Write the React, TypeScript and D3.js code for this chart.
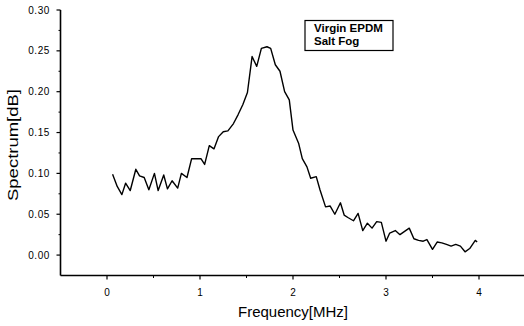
import React from "react";
import * as d3 from "d3";

const freq = [0.06,0.11,0.16,0.20,0.25,0.31,0.35,0.40,0.45,0.51,0.55,0.61,0.65,0.70,0.76,0.80,0.86,0.91,0.96,1.01,1.05,1.10,1.15,1.20,1.25,1.30,1.36,1.41,1.46,1.51,1.56,1.61,1.66,1.72,1.76,1.81,1.86,1.91,1.96,2.00,2.06,2.10,2.15,2.19,2.25,2.29,2.35,2.40,2.45,2.51,2.55,2.59,2.65,2.70,2.75,2.80,2.85,2.90,2.95,3.00,3.04,3.10,3.15,3.20,3.25,3.30,3.35,3.40,3.44,3.50,3.55,3.60,3.65,3.70,3.75,3.80,3.85,3.90,3.96,3.98];
const spectrum = [0.099,0.084,0.074,0.088,0.079,0.105,0.097,0.095,0.080,0.100,0.079,0.098,0.081,0.091,0.082,0.100,0.095,0.118,0.118,0.118,0.111,0.134,0.130,0.145,0.151,0.152,0.161,0.172,0.184,0.199,0.243,0.231,0.253,0.255,0.253,0.233,0.225,0.200,0.190,0.153,0.137,0.118,0.108,0.094,0.096,0.080,0.059,0.060,0.050,0.064,0.049,0.046,0.042,0.051,0.030,0.039,0.033,0.041,0.040,0.017,0.027,0.030,0.025,0.029,0.033,0.020,0.018,0.017,0.019,0.007,0.016,0.015,0.013,0.011,0.013,0.011,0.004,0.008,0.018,0.016];

const xMajor = [0, 1, 2, 3, 4];
const xMinor = [0.5, 1.5, 2.5, 3.5];
const yMajor = [0, 0.05, 0.1, 0.15, 0.2, 0.25, 0.3];
const yMinor = [0.025, 0.075, 0.125, 0.175, 0.225, 0.275];
const legendLines = ["Virgin EPDM", "Salt Fog"];
const xTitle = "Frequency[MHz]";
const yTitle = "Spectrum[dB]";

export default function App() {
  const W = 524, H = 326;
  const x = d3.scaleLinear().domain([-0.5, 4.5]).range([60.5, 525.5]);
  const y = d3.scaleLinear().domain([-0.025, 0.3]).range([275.5, 10]);
  const pts = freq.map((f, i) => [f, spectrum[i]] as [number, number]);
  const line = d3.line<[number, number]>().x(d => x(d[0])).y(d => y(d[1]));
  const font = "'Liberation Sans', Arial, sans-serif";
  const x0 = x(-0.5), yb = y(-0.025);
  return (
    <svg width={W} height={H} style={{ position: "absolute", left: 0, top: 0, background: "#fff" }} fontFamily={font}>
      <rect width={W} height={H} fill="#fff" />
      <line x1={x0} x2={x0} y1={y(0.3)} y2={yb} stroke="#000" strokeWidth={1.6} />
      <line x1={x0} x2={W} y1={yb} y2={yb} stroke="#000" strokeWidth={1.6} />
      {yMajor.map(v => (
        <g key={"ym" + v}>
          <line x1={x0 - 4} x2={x0} y1={y(v)} y2={y(v)} stroke="#000" strokeWidth={1.2} />
          <text x={50} y={y(v) + 3.5} fontSize={10} textAnchor="end" letterSpacing={0.6}>{v.toFixed(2)}</text>
        </g>
      ))}
      {yMinor.map(v => (
        <line key={"yn" + v} x1={x0 - 2} x2={x0} y1={y(v)} y2={y(v)} stroke="#000" strokeWidth={1} />
      ))}
      {xMajor.map(v => (
        <g key={"xm" + v}>
          <line x1={x(v)} x2={x(v)} y1={yb} y2={yb + 4} stroke="#000" strokeWidth={1.2} />
          <text x={x(v)} y={296} fontSize={10} textAnchor="middle">{v}</text>
        </g>
      ))}
      {xMinor.map(v => (
        <line key={"xn" + v} x1={x(v)} x2={x(v)} y1={yb} y2={yb + 2.5} stroke="#000" strokeWidth={1} />
      ))}
      <text x={293} y={317} fontSize={15} textAnchor="middle">{xTitle}</text>
      <text transform={`translate(18,145) rotate(-90)`} fontSize={15} textAnchor="middle" textLength={112} lengthAdjust="spacingAndGlyphs">{yTitle}</text>
      <path d={line(pts) || ""} fill="none" stroke="#000" strokeWidth={1.4} strokeLinejoin="round" />
      <rect x={305} y={20.5} width={88} height={30} fill="#fff" stroke="#000" strokeWidth={1.2} />
      {legendLines.map((t, i) => (
        <text key={t} x={314} y={31.5 + i * 13.5} fontSize={11.5} fontWeight="bold">{t}</text>
      ))}
    </svg>
  );
}
